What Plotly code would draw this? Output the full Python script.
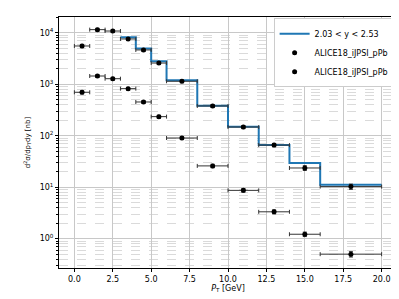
import plotly.graph_objects as go

# Data
pt_centers = [0.5, 1.5, 2.5, 3.5, 4.5, 5.5, 7, 9, 11, 13, 15, 18]
pt_halfwidth = [0.5, 0.5, 0.5, 0.5, 0.5, 0.5, 1, 1, 1, 1, 1, 2]
xsec_high = [5580, 11600, 10900, 7640, 4670, 2600, 1150, 380, 148, 66, 23.7, 10.3]
xsec_high_err = [400, 700, 650, 450, 280, 160, 70, 25, 10, 5, 2.5, 1.2]
xsec_low = [702, 1455, 1290, 826, 455, 236, 90.6, 26, 8.7, 3.33, 1.22, 0.50]
xsec_low_err = [50, 90, 80, 50, 28, 15, 6, 2, 0.7, 0.3, 0.12, 0.06]
step_edges = [3, 4, 5, 6, 8, 10, 12, 14, 16, 20]
step_values = [8250, 5000, 2810, 1200, 386, 150, 66, 29.5, 11.2, 11.2]
model_label = "2.03 < y < 2.53"
data_label = "ALICE18_iJPSI_pPb"

fig = go.Figure()
fig.add_trace(go.Scatter(x=step_edges, y=step_values, mode="lines", line_shape="hv",
                         line=dict(color="#1f77b4", width=2), name=model_label))
for vals, errs in [(xsec_high, xsec_high_err), (xsec_low, xsec_low_err)]:
    fig.add_trace(go.Scatter(
        x=pt_centers, y=vals, mode="markers", name=data_label,
        marker=dict(color="black", size=5),
        error_x=dict(type="data", array=pt_halfwidth, color="#333333", thickness=1, width=2),
        error_y=dict(type="data", array=errs, color="#333333", thickness=1, width=2),
    ))

font = dict(family="DejaVu Sans", size=8, color="black")
fig.update_layout(
    width=399, height=299,
    margin=dict(l=51, r=10, t=9, b=39),
    paper_bgcolor="white", plot_bgcolor="white",
    font=font,
    showlegend=True,
    legend=dict(x=0.99, y=0.995, xanchor="right", yanchor="top",
                bgcolor="white", bordercolor="#cccccc", borderwidth=1,
                font=dict(family="DejaVu Sans", size=8, color="black"),
                tracegroupgap=0, itemwidth=30),
)
fig.update_xaxes(
    range=[-1, 21], tickvals=[0, 2.5, 5, 7.5, 10, 12.5, 15, 17.5, 20],
    ticktext=["0.0", "2.5", "5.0", "7.5", "10.0", "12.5", "15.0", "17.5", "20.0"],
    showgrid=True, gridcolor="#c8c8c8", gridwidth=1,
    showline=True, linecolor="black", linewidth=1, mirror=True,
    ticks="outside", ticklen=3, tickcolor="black", zeroline=False,
    title=dict(text="<i>P</i><sub>T</sub> [GeV]", font=font, standoff=0),
)
fig.update_yaxes(
    type="log", range=[-0.57, 4.31],
    tickvals=[1, 10, 100, 1000, 10000],
    ticktext=["10<sup>0</sup>", "10<sup>1</sup>", "10<sup>2</sup>", "10<sup>3</sup>", "10<sup>4</sup>"],
    showgrid=True, gridcolor="#c8c8c8", gridwidth=1,
    minor=dict(dtick="D1", showgrid=True, gridcolor="#dadada", griddash="dash",
               ticks="outside", ticklen=2, tickcolor="black"),
    showline=True, linecolor="black", linewidth=1, mirror=True,
    ticks="outside", ticklen=3, tickcolor="black", zeroline=False,
    title=dict(text="d<sup>2</sup>σ/dp<sub>T</sub>dy [nb]", font=dict(family="DejaVu Sans", size=7), standoff=8),
)
fig.write_html("out.html")
